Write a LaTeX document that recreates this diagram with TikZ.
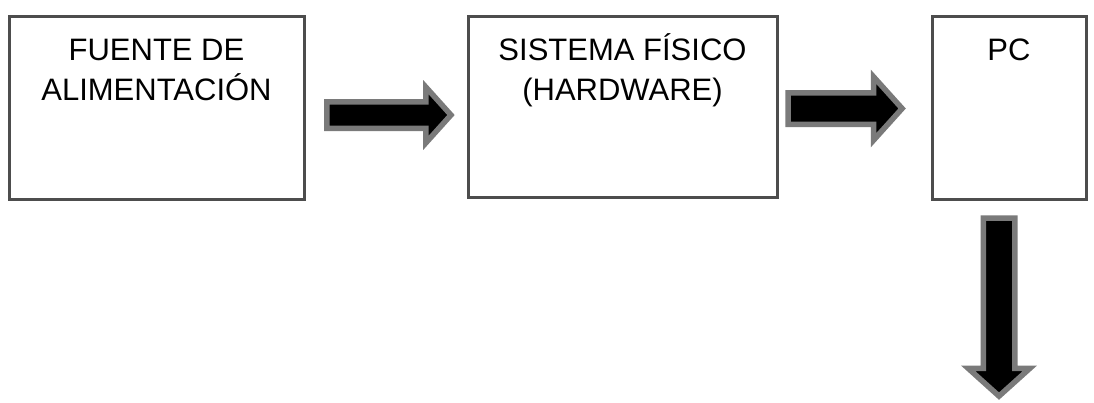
\documentclass[tikz,border=0pt]{standalone}
\usepackage{fontspec}
\setmainfont{Liberation Sans}
\usetikzlibrary{shapes.arrows}
\definecolor{boxgray}{HTML}{4D4D4D}
\definecolor{arrowgray}{HTML}{7A7A7A}
\begin{document}
\begin{tikzpicture}[x=1pt, y=-1pt,
    bloque/.style={draw=boxgray, line width=3pt, fill=white, inner sep=0pt},
    texto/.style={anchor=base, align=center, inner sep=0pt, font=\fontsize{31}{40}\selectfont},
    flecha/.style={single arrow, draw=arrowgray, fill=black, line width=5.5pt, single arrow tip angle=96}]
			 \useasboundingbox (0,0) rectangle (1094,402);
			 \node[bloque, minimum width=295pt, minimum height=183pt] (fuente)at(156.5,107.5) {};
			 \node[bloque, minimum width=309pt, minimum height=181pt] (sistema)at(622.5,106.5) {};
			 \node[bloque, minimum width=154pt, minimum height=183pt] (pc)at(1009,107.5) {};
			 \node[texto] (tfuente)at(156.5,100) {FUENTE DE\\ALIMENTACIÓN};
			 \node[texto] (tsistema)at(622.5,100) {SISTEMA FÍSICO\\(HARDWARE)};
			 \node[texto] (tpc)at(1009,60) {PC};
			 \node[flecha, inner sep=10.5pt, minimum height=124pt, single arrow head extend=14.5pt] (f1)at(383,115) {};
			 \node[flecha, inner sep=13pt, minimum height=114pt, single arrow head extend=16pt] (f2)at(838,108.5) {};
			 \node[flecha, inner sep=13pt, minimum height=178pt, single arrow head extend=15pt, shape border rotate=270] (f3)at(999,300) {};
		\end{tikzpicture}
\end{document}
